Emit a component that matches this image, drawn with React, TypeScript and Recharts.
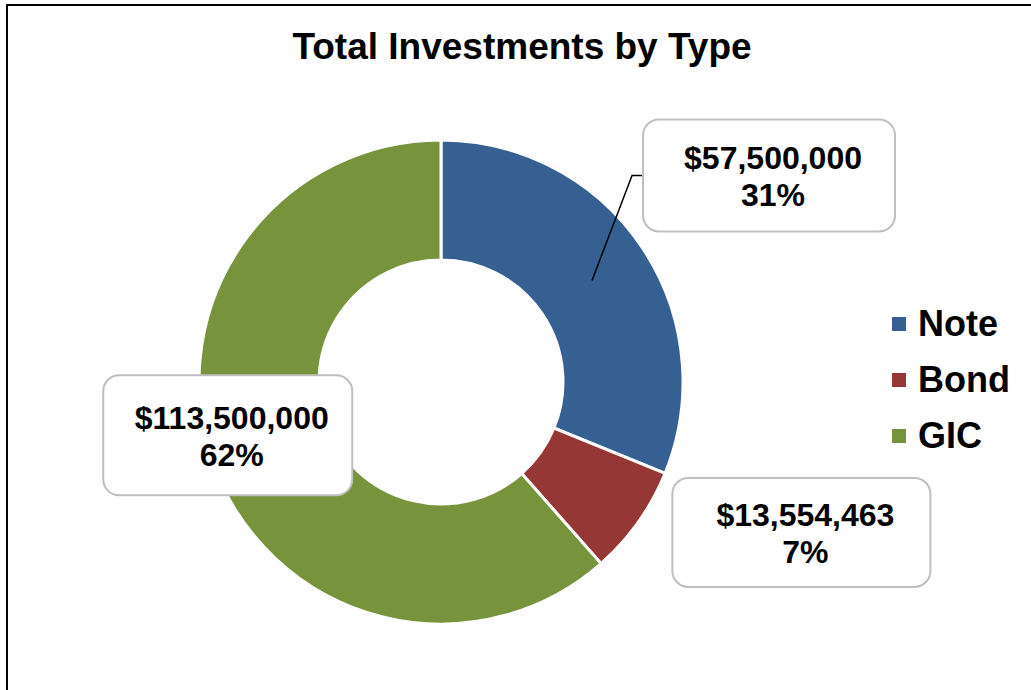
import React from 'react';
import { PieChart, Pie, Cell, Legend } from 'recharts';

const categories = ['Note', 'Bond', 'GIC'];
const amounts = [57500000, 13554463, 113500000];
const colors = ['#376092', '#953735', '#77933C'];
const chartTitle = 'Total Investments by Type';

const data = categories.map((name, i) => ({ name, value: amounts[i] }));

// whole-number percentages that add up to 100 (largest remainder)
const total = amounts.reduce((a, b) => a + b, 0);
const rawPct = amounts.map((v) => (v / total) * 100);
const pctLabels = (() => {
  const floors = rawPct.map((p) => Math.floor(p));
  let rest = 100 - floors.reduce((a, b) => a + b, 0);
  const order = rawPct
    .map((p, i) => ({ i, r: p - Math.floor(p) }))
    .sort((a, b) => b.r - a.r);
  for (let k = 0; k < order.length && rest > 0; k++, rest--) floors[order[k].i] += 1;
  return floors;
})();

const FONT = '"Liberation Sans", Arial, Helvetica, sans-serif';
const RAD = Math.PI / 180;

// label box placement relative to the ring midpoint of each slice (styling only)
const labelBoxes = [
  { dx: 177, dy: -105, w: 252, h: 112, leader: true },
  { dx: 212, dy: 45, w: 258, h: 109, leader: false },
  { dx: -43, dy: -11, w: 249, h: 120, leader: false },
];

const fmtMoney = (v: number) => '$' + v.toLocaleString('en-US');

const renderLabel = (props: any) => {
  const { cx, cy, midAngle, innerRadius, outerRadius, index, value } = props;
  const r = (innerRadius + outerRadius) / 2;
  const ax = cx + r * Math.cos(-midAngle * RAD);
  const ay = cy + r * Math.sin(-midAngle * RAD);
  const b = labelBoxes[index];
  const bx = ax + b.dx;
  const by = ay + b.dy;
  const left = bx - b.w / 2;
  const top = by - b.h / 2;
  return (
    <g key={`lbl-${index}`}>
      {b.leader && (
        <polyline
          points={`${ax},${ay} ${left - 11},${by} ${left},${by}`}
          fill="none"
          stroke="#000"
          strokeWidth={1.5}
        />
      )}
      <rect x={left} y={top} width={b.w} height={b.h} rx={16} ry={16} fill="#fff" stroke="#bfbfbf" strokeWidth={2} />
      <text x={bx + 4} y={by - 6} textAnchor="middle" fontFamily={FONT} fontWeight="bold" fontSize={32} fill="#000">
        {fmtMoney(value)}
      </text>
      <text x={bx + 4} y={by + 31} textAnchor="middle" fontFamily={FONT} fontWeight="bold" fontSize={32} fill="#000">
        {pctLabels[index] + '%'}
      </text>
    </g>
  );
};

const renderLegend = () => (
  <div style={{ fontFamily: FONT }}>
    {categories.map((c, i) => (
      <div key={c} style={{ height: 56, display: 'flex', alignItems: 'center' }}>
        <div style={{ width: 14, height: 14, background: colors[i], marginRight: 12 }} />
        <span style={{ fontSize: 36, fontWeight: 'bold', lineHeight: '56px', color: '#000' }}>{c}</span>
      </div>
    ))}
  </div>
);

export default function App() {
  return (
    <div style={{ position: 'absolute', left: 0, top: 0, width: 1031, height: 690, overflow: 'hidden', background: '#fff' }}>
      <div style={{ position: 'absolute', left: 6, top: 4, width: 1100, height: 800, border: '2px solid #000', boxSizing: 'border-box' }} />
      <svg style={{ position: 'absolute', left: 0, top: 0 }} width={1031} height={100}>
        <text x={522} y={59} textAnchor="middle" fontFamily={FONT} fontWeight="bold" fontSize={37} fill="#000">
          {chartTitle}
        </text>
      </svg>
      <div style={{ position: 'absolute', left: 0, top: 0 }}>
        <PieChart width={1031} height={690} margin={{ top: 0, right: 0, bottom: 0, left: 0 }}>
          <Pie
            data={data}
            dataKey="value"
            nameKey="name"
            cx={441}
            cy={382}
            innerRadius={122}
            outerRadius={242}
            startAngle={90}
            endAngle={-270}
            stroke="#fff"
            strokeWidth={3}
            label={renderLabel}
            labelLine={false}
            isAnimationActive={false}
          >
            {data.map((d, i) => (
              <Cell key={d.name} fill={colors[i]} />
            ))}
          </Pie>
          <Legend
            layout="vertical"
            content={renderLegend}
            wrapperStyle={{ position: 'absolute', left: 892, top: 296, width: 139 }}
          />
        </PieChart>
      </div>
    </div>
  );
}
